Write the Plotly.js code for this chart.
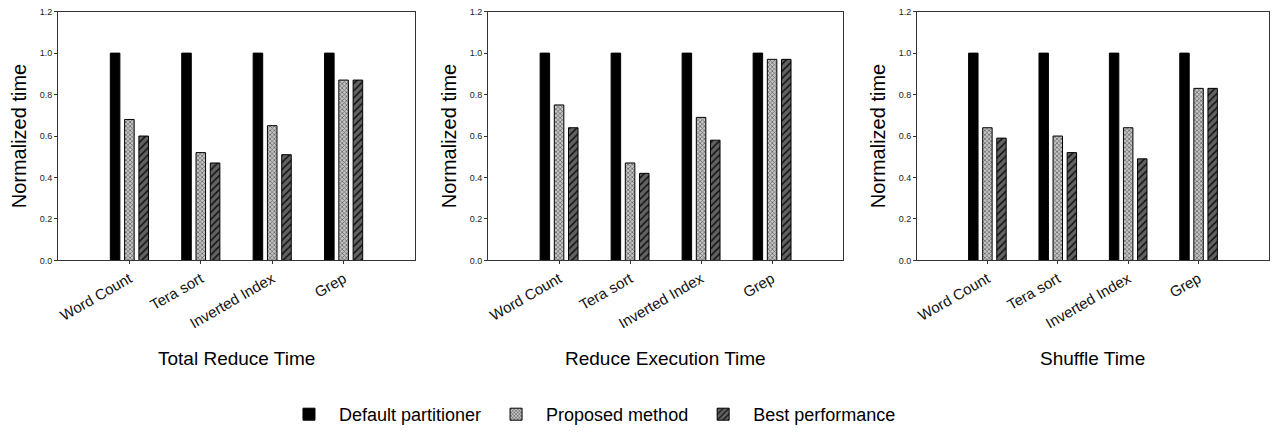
<!DOCTYPE html>
<html>
<head>
<meta charset="utf-8">
<script src="https://cdn.plot.ly/plotly-3.0.1.min.js"></script>
<style>html,body{margin:0;padding:0;background:#fff;}#chart{width:1277px;height:433px;}</style>
</head>
<body>
<div id="chart"></div>
<script>
const categories = ["Word Count", "Tera sort", "Inverted Index", "Grep"];
const seriesNames = ["Default partitioner", "Proposed method", "Best performance"];
const panelTitles = ["Total Reduce Time", "Reduce Execution Time", "Shuffle Time"];

// values per panel
const totalReduceDefault = [1.0, 1.0, 1.0, 1.0];
const totalReduceProposed = [0.68, 0.52, 0.65, 0.87];
const totalReduceBest = [0.60, 0.47, 0.51, 0.87];

const reduceExecDefault = [1.0, 1.0, 1.0, 1.0];
const reduceExecProposed = [0.75, 0.47, 0.69, 0.97];
const reduceExecBest = [0.64, 0.42, 0.58, 0.97];

const shuffleDefault = [1.0, 1.0, 1.0, 1.0];
const shuffleProposed = [0.64, 0.60, 0.64, 0.83];
const shuffleBest = [0.59, 0.52, 0.49, 0.83];

const yTickVals = [0, 0.2, 0.4, 0.6, 0.8, 1.0, 1.2];

const panels = [
  [totalReduceDefault, totalReduceProposed, totalReduceBest],
  [reduceExecDefault, reduceExecProposed, reduceExecBest],
  [shuffleDefault, shuffleProposed, shuffleBest]
];

const styles = [
  {color: "#000000", pattern: {shape: ""}},
  {color: "#b8b8b8", pattern: {shape: "x", size: 3, solidity: 0.4, fgcolor: "#5a5a5a", bgcolor: "#c4c4c4", fillmode: "replace"}},
  {color: "#505050", pattern: {shape: "/", size: 5, solidity: 0.3, fgcolor: "#111111", bgcolor: "#626262", fillmode: "replace"}}
];

const traces = [];
panels.forEach((vals, p) => {
  const ax = p === 0 ? "" : String(p + 1);
  vals.forEach((v, s) => {
    traces.push({
      type: "bar",
      x: categories,
      y: v,
      name: seriesNames[s],
      legendgroup: seriesNames[s],
      showlegend: p === 0,
      xaxis: "x" + ax,
      yaxis: "y" + ax,
      marker: {
        color: styles[s].color,
        pattern: styles[s].pattern,
        line: {color: "#000", width: 1}
      },
      hoverinfo: "skip"
    });
  });
});

const domains = [[0.0454, 0.3250], [0.3822, 0.6602], [0.7181, 0.9937]];
const yDomain = [0.3972, 0.9730];
const fontFam = "Liberation Sans, Arial, sans-serif";

const layout = {
  width: 1277, height: 433,
  margin: {l: 0, r: 0, t: 0, b: 0},
  paper_bgcolor: "#fff", plot_bgcolor: "#fff",
  font: {family: fontFam, color: "#000"},
  barmode: "group",
  bargap: 0.4,
  bargroupgap: 0.33,
  showlegend: true,
  legend: {
    orientation: "h", x: 0.462, xanchor: "center", y: 0.040, yanchor: "middle",
    font: {size: 18, family: fontFam, color: "#000"},
    itemwidth: 50, traceorder: "normal", tracegroupgap: 0,
    itemclick: false
  },
  annotations: []
};

panels.forEach((vals, p) => {
  const ax = p === 0 ? "" : String(p + 1);
  layout["xaxis" + ax] = {
    domain: domains[p],
    anchor: "y" + ax,
    type: "category",
    range: [-1, 4],
    showline: true, mirror: true, linecolor: "#333", linewidth: 1,
    ticks: "outside", ticklen: 3, tickcolor: "#333",
    tickangle: -30,
    tickfont: {size: 15, family: fontFam, color: "#111"},
    showgrid: false, zeroline: false, fixedrange: true, automargin: false
  };
  layout["yaxis" + ax] = {
    domain: yDomain,
    anchor: "x" + ax,
    range: [0, 1.2],
    tickvals: yTickVals,
    tickformat: ".1f",
    showline: true, mirror: true, linecolor: "#333", linewidth: 1,
    ticks: "outside", ticklen: 3, tickcolor: "#333",
    tickfont: {size: 9, family: fontFam, color: "#222"},
    title: {text: "Normalized time", font: {size: 20, family: fontFam, color: "#000"}, standoff: 7},
    showgrid: false, zeroline: false, fixedrange: true, automargin: false
  };
  layout.annotations.push({
    text: panelTitles[p],
    xref: "paper", yref: "paper",
    x: (domains[p][0] + domains[p][1]) / 2, y: 0.171,
    xanchor: "center", yanchor: "middle",
    showarrow: false,
    font: {size: 19, family: fontFam, color: "#000"}
  });
});

Plotly.newPlot("chart", traces, layout, {staticPlot: true, displayModeBar: false});
</script>
</body>
</html>
